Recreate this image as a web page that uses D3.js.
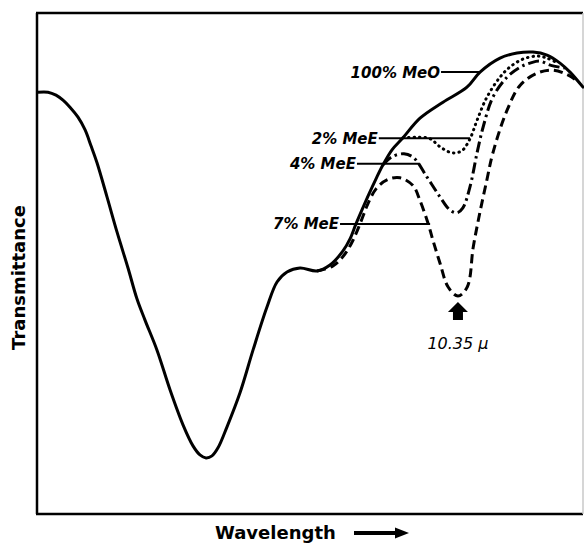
<!DOCTYPE html>
<html>
<head>
<meta charset="utf-8">
<script src="https://cdn.jsdelivr.net/npm/d3@7"></script>
<style>
  html, body { margin: 0; padding: 0; background: #fff; }
  svg { display: block; }
</style>
</head>
<body>
<svg id="chart" width="584" height="544"></svg>
<script>
// ---- data (arbitrary wavelength units 0-100, transmittance 0-100) ----
const meo100 = [
  [0.18,84.2],[2.01,84.2],[3.48,83.6],[4.76,82.6],[6.04,81.2],[7.51,79.2],[8.79,76.7],[9.89,73.5],
  [10.99,70.1],[12.82,63.3],[14.65,56.3],[16.67,49.1],[18.32,42.9],[19.78,38.7],[21.98,32.7],
  [24.36,24.8],[26.74,17.8],[28.57,13.6],[29.85,11.8],[30.95,11.2],[32.05,11.6],[33.15,13.2],
  [34.80,17.4],[37.18,24.2],[39.56,32.7],[42.12,41.3],[43.96,46.3],[45.79,48.3],[48.17,49.1],
  [51.28,48.5],[53.66,49.7],[56.04,52.5],[57.33,54.9],[58.42,57.9],[59.52,60.7],[60.81,63.9],
  [62.09,66.9],[63.37,69.7],[65.02,72.7],[67.03,75.1],[70.15,79.0],[74.36,82.2],[78.75,85.2],
  [81.14,88.2],[84.80,91.0],[87.91,92.0],[90.84,92.2],[93.41,91.6],[95.79,90.0],[97.62,88.2],[100,85.2]
];
const mee2 = [
  [67.03,75.1],[69.6,75.2],[72.0,74.9],[73.8,73.3],[76.0,72.1],[77.8,72.5],[79.3,74.9],[80.6,78.6],
  [82.4,83.2],[84.8,87.2],[86.6,89.2],[89.0,90.8],[91.6,91.4],[93.4,91.0],[95.4,90.0]
];
const mee4 = [
  [63.37,69.7],[65.0,71.3],[67.2,71.9],[69.0,71.1],[71.4,67.3],[73.8,63.3],[75.6,60.7],
  [76.9,60.1],[78.0,61.1],[79.3,65.3],[80.6,72.1],[81.7,77.2],[83.5,83.2],[86.1,87.2],[88.5,89.2],
  [90.3,90.0],[92.1,90.4],[94.0,89.6],[96.7,89.0]
];
const mee7 = [
  [51.28,48.5],[54.2,49.5],[56.4,51.9],[57.9,54.7],[59.3,58.3],[60.6,61.9],[62.1,64.9],[64.1,66.7],
  [66.5,67.1],[68.9,65.5],[70.1,62.7],[71.6,58.1],[72.5,54.7],[73.8,50.1],[75.3,45.3],[77.1,43.5],
  [78.8,45.3],[79.9,53.3],[81.1,60.1],[82.4,66.7],[83.5,72.1],[86.1,80.6],[88.5,85.6],[91.6,88.0],
  [94.5,88.6],[97.3,87.6],[98.7,86.6]
];
const seriesNames = ["7% MeE", "4% MeE", "2% MeE", "100% MeO"];
// label anchors: [leader start x, leader end x, leader y]
const labelAnchors = [
  [55.5, 72.0, 57.9],
  [58.6, 70.1, 69.9],
  [62.6, 79.3, 75.0],
  [74.0, 81.1, 88.2]
];
const peakLabel = "10.35 \u03bc";
const peakPoint = [77.1, 43.5];
const xTitle = "Wavelength";
const yTitle = "Transmittance";

// ---- layout ----
const svg = d3.select("#chart");
const L = 37, R = 583, T = 13, B = 514;
const x = d3.scaleLinear().domain([0, 100]).range([L, R]);
const y = d3.scaleLinear().domain([0, 100]).range([B, T]);

// frame
svg.append("line").attr("x1", L).attr("x2", L).attr("y1", T).attr("y2", B)
  .attr("stroke", "#000").attr("stroke-width", 2.5);
svg.append("line").attr("x1", L - 1).attr("x2", R).attr("y1", T).attr("y2", T)
  .attr("stroke", "#000").attr("stroke-width", 2.5);
svg.append("line").attr("x1", L - 1).attr("x2", R).attr("y1", B).attr("y2", B)
  .attr("stroke", "#000").attr("stroke-width", 2.5);
svg.append("line").attr("x1", R).attr("x2", R).attr("y1", T).attr("y2", B)
  .attr("stroke", "#c8c8c8").attr("stroke-width", 1.5);

const line = d3.line().x(d => x(d[0])).y(d => y(d[1]))
  .curve(d3.curveCatmullRom.alpha(0.5));

const styles = [
  { data: mee7, dash: "9,5", cap: "butt", w: 3 },
  { data: mee4, dash: "11,4,2.5,4", cap: "butt", w: 3 },
  { data: mee2, dash: "0.5,5", cap: "round", w: 3 },
  { data: meo100, dash: null, cap: "round", w: 3 }
];
styles.forEach(s => {
  svg.append("path").datum(s.data).attr("d", line)
    .attr("fill", "none").attr("stroke", "#000")
    .attr("stroke-width", s.w).attr("stroke-linecap", s.cap)
    .attr("stroke-linejoin", "round")
    .attr("stroke-dasharray", s.dash);
});

// labels with leader lines
seriesNames.forEach((name, i) => {
  const a = labelAnchors[i];
  svg.append("line").attr("x1", x(a[0])).attr("x2", x(a[1]))
    .attr("y1", y(a[2])).attr("y2", y(a[2]))
    .attr("stroke", "#000").attr("stroke-width", 2);
  svg.append("text").attr("x", x(a[0]) - 1).attr("y", y(a[2]))
    .attr("dy", "0.36em").attr("text-anchor", "end")
    .attr("font-family", "DejaVu Sans").attr("font-weight", "bold")
    .attr("font-style", "italic").attr("font-size", 15)
    .text(name);
});

// peak arrow
const px = x(peakPoint[0]), py = y(peakPoint[1]);
const ah = d3.path();
ah.moveTo(px, py + 6);
ah.lineTo(px + 10, py + 16);
ah.lineTo(px + 5, py + 16);
ah.lineTo(px + 5, py + 24);
ah.lineTo(px - 5, py + 24);
ah.lineTo(px - 5, py + 16);
ah.lineTo(px - 10, py + 16);
ah.closePath();
svg.append("path").attr("d", ah.toString()).attr("fill", "#000");
svg.append("text").attr("x", px).attr("y", py + 47)
  .attr("dy", "0.36em").attr("text-anchor", "middle")
  .attr("font-family", "DejaVu Sans").attr("font-style", "italic")
  .attr("font-size", 16).text(peakLabel);

// axis titles
svg.append("text").attr("transform", `translate(19,${(T + B) / 2 + 14}) rotate(-90)`)
  .attr("text-anchor", "middle").attr("dy", "0.36em")
  .attr("font-family", "DejaVu Sans").attr("font-weight", "bold")
  .attr("font-size", 18).text(yTitle);
svg.append("text").attr("x", 215).attr("y", 533).attr("dy", "0.36em")
  .attr("font-family", "DejaVu Sans").attr("font-weight", "bold")
  .attr("font-size", 18).text(xTitle);
// wavelength arrow
svg.append("line").attr("x1", 354).attr("x2", 397).attr("y1", 533).attr("y2", 533)
  .attr("stroke", "#000").attr("stroke-width", 4);
svg.append("path").attr("d", "M395,527.5 L409,533 L395,538.5 Z").attr("fill", "#000");
</script>
</body>
</html>
